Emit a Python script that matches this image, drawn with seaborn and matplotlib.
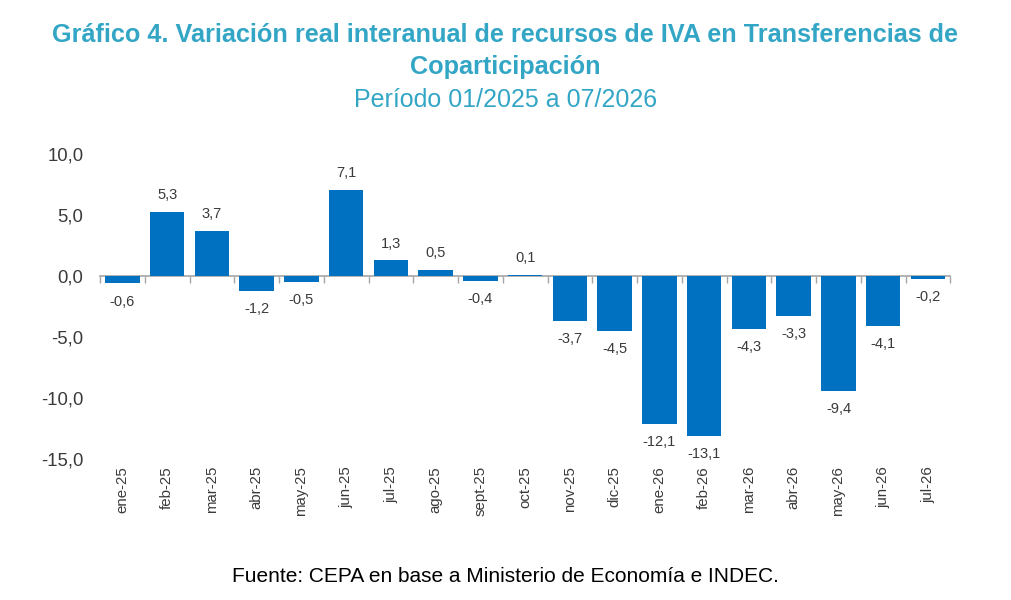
import matplotlib
matplotlib.use("Agg")
import matplotlib.pyplot as plt
import seaborn as sns
import pandas as pd
import numpy as np

months = ["ene-25", "feb-25", "mar-25", "abr-25", "may-25", "jun-25", "jul-25",
          "ago-25", "sept-25", "oct-25", "nov-25", "dic-25", "ene-26", "feb-26",
          "mar-26", "abr-26", "may-26", "jun-26", "jul-26"]
values = [-0.6, 5.3, 3.7, -1.2, -0.5, 7.1, 1.3, 0.5, -0.4, 0.1, -3.7, -4.5,
          -12.1, -13.1, -4.3, -3.3, -9.4, -4.1, -0.2]
yticks = [-15, -10, -5, 0, 5, 10]

sns.set_theme(style="white")
plt.rcParams['font.family'] = ['Liberation Sans', 'DejaVu Sans']

df = pd.DataFrame({"mes": months, "valor": values})

fig = plt.figure(figsize=(10.11, 6.0), dpi=100)
ax = fig.add_axes([0.099, 0.235, 0.841, 0.508])

sns.barplot(data=df, x="mes", y="valor", color="#0070C0", saturation=1,
            width=0.77, ax=ax, edgecolor="none")

ax.set_ylim(-15, 10)
ax.set_xlim(-0.5, len(months) - 0.5)
ax.set_yticks(yticks)
ax.set_yticklabels([f"{v:.1f}".replace(".", ",") for v in yticks],
                   fontsize=13.3, color="#3A3A3A")
ax.tick_params(axis="y", length=0, pad=12)
ax.tick_params(axis="x", length=0, pad=5, labelsize=10.8, labelcolor="#3A3A3A",
               rotation=90)
ax.set_xlabel("")
ax.set_ylabel("")
for s in ax.spines.values():
    s.set_visible(False)

# zero axis line with tick marks between categories
sec = ax.secondary_xaxis(0, transform=ax.transData)
sec.set_xticks(np.arange(-0.5, len(months), 1.0))
sec.set_xticklabels([])
sec.tick_params(axis="x", length=5, width=1, color="#A6A6A6", direction="out")
sec.spines["bottom"].set_color("#A6A6A6")
sec.spines["bottom"].set_linewidth(1.2)

for i, v in enumerate(values):
    lab = f"{v:.1f}".replace(".", ",")
    if v >= 0:
        ax.annotate(lab, (i, v), xytext=(0, 7), textcoords="offset points",
                    ha="center", va="bottom", fontsize=10.5, color="#3A3A3A")
    else:
        ax.annotate(lab, (i, v), xytext=(0, -8), textcoords="offset points",
                    ha="center", va="top", fontsize=10.5, color="#3A3A3A")

title_color = "#33A6C6"
fig.text(0.5, 1 - 35 / 600, "Gráfico 4. Variación real interanual de recursos de IVA en Transferencias de",
         ha="center", va="center", fontsize=18.2, fontweight="bold", color=title_color)
fig.text(0.5, 1 - 67 / 600, "Coparticipación",
         ha="center", va="center", fontsize=18.2, fontweight="bold", color=title_color)
fig.text(0.5, 1 - 100 / 600, "Período 01/2025 a 07/2026",
         ha="center", va="center", fontsize=18.0, color=title_color)
fig.text(0.5, 1 - 577 / 600, "Fuente: CEPA en base a Ministerio de Economía e INDEC.",
         ha="center", va="center", fontsize=15.0, color="black")

fig.savefig("out.png", dpi=100, facecolor="white")
